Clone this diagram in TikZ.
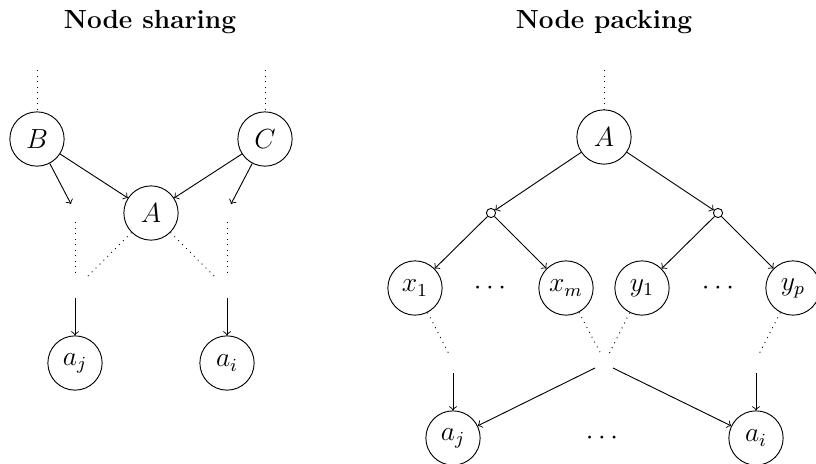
\documentclass[tikz,border=0pt]{standalone}
\begin{document}
\begin{tikzpicture}[x=0.4348pt,y=-0.4348pt,
  every node/.style={font=\fontsize{12}{14}\selectfont},
  vnode/.style={circle,draw,minimum size=23.6pt,inner sep=0pt},
  pnode/.style={circle,draw,minimum size=4pt,inner sep=0pt},
  ttl/.style={font=\fontsize{11.4}{13}\selectfont\bfseries,anchor=base},
  arr/.style={->},
  dots/.style={dotted}]
\useasboundingbox (0,0) rectangle (816,463);
\clip (0,0) rectangle (816,463);
% ---------- Node sharing ----------
\node[ttl] (t1) at (150,28) {Node sharing};
\node[vnode] (B) at (37,139) {$B$};
\node[vnode] (C) at (265,139) {$C$};
\node[vnode] (A1) at (151,213) {$A$};
\node[vnode] (aj1) at (75,363) {$a_j$};
\node[vnode] (ai1) at (227,363) {$a_i$};
\coordinate (Btop) at (37,70);
\coordinate (Ctop) at (265,70);
\coordinate (Bend) at (71,204);
\coordinate (Cend) at (231,204);
\coordinate (lv1) at (75,222);
\coordinate (lv2) at (75,276);
\coordinate (rv1) at (227,222);
\coordinate (rv2) at (227,276);
\coordinate (ld) at (85,279);
\coordinate (rd) at (217,279);
\coordinate (ls) at (75,298);
\coordinate (rs) at (227,298);
\draw[dots] (Btop) -- (B);
\draw[dots] (Ctop) -- (C);
\draw[arr] (B) -- (A1);
\draw[arr] (C) -- (A1);
\draw[arr] (B) -- (Bend);
\draw[arr] (C) -- (Cend);
\draw[dots] (lv1) -- (lv2);
\draw[dots] (rv1) -- (rv2);
\draw[dots] (A1) -- (ld);
\draw[dots] (A1) -- (rd);
\draw[arr] (ls) -- (aj1);
\draw[arr] (rs) -- (ai1);
% ---------- Node packing ----------
\node[ttl] (t2) at (604,28) {Node packing};
\node[vnode] (A2) at (604,137) {$A$};
\node[pnode] (pl) at (491,213) {};
\node[pnode] (pr) at (718,213) {};
\node[vnode] (x1) at (415,288) {$x_1$};
\node[vnode] (xm) at (566,288) {$x_m$};
\node[vnode] (y1) at (642,288) {$y_1$};
\node[vnode] (yp) at (793,288) {$y_p$};
\node (d1) at (490,288) {$\cdots$};
\node (d2) at (718,288) {$\cdots$};
\node[vnode] (aj2) at (453,438) {$a_j$};
\node[vnode] (ai2) at (756,438) {$a_i$};
\node (d3) at (602,438) {$\cdots$};
\coordinate (Atop) at (604,70);
\coordinate (e1) at (449,354);
\coordinate (e2) at (601,354);
\coordinate (e3) at (609,354);
\coordinate (e4) at (759,354);
\coordinate (s1) at (453,373);
\coordinate (s2) at (595,368);
\coordinate (s3) at (613,368);
\coordinate (s4) at (756,373);
\draw[dots] (Atop) -- (A2);
\draw[arr] (A2) -- (pl);
\draw[arr] (A2) -- (pr);
\draw[arr] (pl) -- (x1);
\draw[arr] (pl) -- (xm);
\draw[arr] (pr) -- (y1);
\draw[arr] (pr) -- (yp);
\draw[dots] (x1) -- (e1);
\draw[dots] (xm) -- (e2);
\draw[dots] (y1) -- (e3);
\draw[dots] (yp) -- (e4);
\draw[arr] (s1) -- (aj2);
\draw[arr] (s2) -- (aj2);
\draw[arr] (s3) -- (ai2);
\draw[arr] (s4) -- (ai2);
\end{tikzpicture}
\end{document}
